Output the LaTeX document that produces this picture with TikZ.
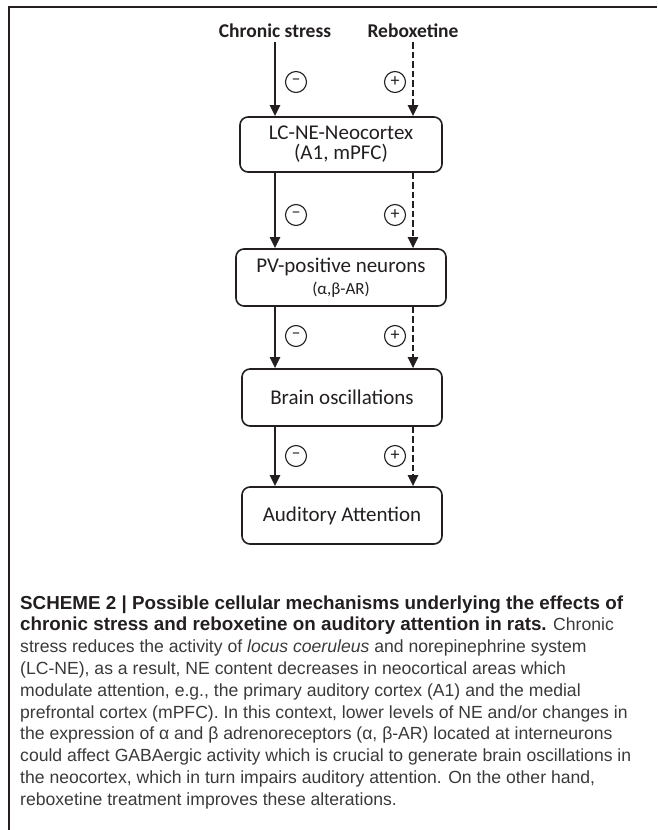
\documentclass[tikz,border=0pt]{standalone}
\usepackage{fontspec}
\setmainfont{Carlito}
\newfontfamily\capfont{Liberation Sans}
\usetikzlibrary{arrows.meta}
\definecolor{ink}{HTML}{231F20}
\definecolor{captxt}{HTML}{3A3A3A}
\begin{document}
\begin{tikzpicture}[x=1pt,y=-1pt,
  box/.style={draw=ink, line width=1.6pt, rounded corners=8pt, minimum width=200pt, minimum height=55pt, inner sep=0pt, align=center, font=\fontsize{21}{21}\selectfont, text=ink},
  sarrow/.style={draw=ink, line width=2.4pt, -{Triangle[length=11pt,width=10pt]}},
  darrow/.style={sarrow, dash pattern=on 6.5pt off 3pt},
  sign/.style={draw=ink, circle, line width=1.1pt, minimum size=21pt, inner sep=0pt, font=\fontsize{18}{18}\selectfont, text=ink},
  ttl/.style={font=\fontsize{19.5}{22}\selectfont\bfseries, inner sep=0pt, text=ink},
  capline/.style={anchor=base west, inner sep=0pt, font=\capfont\fontsize{17.6}{20}\selectfont, text=captxt},
  capbold/.style={font=\capfont\fontsize{18.8}{20}\selectfont\bfseries}
]
\useasboundingbox (0,0) rectangle (657,830);
\draw[ink, line width=1.2pt] (657,7) -- (9,7) -- (9,830);

\node[ttl] (t1) at (275,31) {Chronic stress};
\node[ttl] (t2) at (413,31) {Reboxetine};

\node[box, minimum width=202pt] (b1) at (341,144.5) {LC-NE-Neocortex\\[-1pt](A1, mPFC)};
\node[box, minimum width=210pt, minimum height=57pt] (b2) at (341,277.5) {PV-positive neurons\\[1pt]{\fontsize{17}{17}\selectfont(α,β-AR)}};
\node[box, minimum height=57pt] (b3) at (342,397.5) {Brain oscillations};
\node[box, minimum height=57pt] (b4) at (342,515.5) {Auditory Attention};

\draw[sarrow] ([yshift=-4pt]t1.south) -- (t1.south |- b1.north);
\draw[darrow] ([yshift=-4pt]t2.south) -- (t2.south |- b1.north);
\draw[sarrow] (b1.south -| t1) -- (b2.north -| t1);
\draw[darrow] (b1.south -| t2) -- (b2.north -| t2);
\draw[sarrow] (b2.south -| t1) -- (b3.north -| t1);
\draw[darrow] (b2.south -| t2) -- (b3.north -| t2);
\draw[sarrow] (b3.south -| t1) -- (b4.north -| t1);
\draw[darrow] (b3.south -| t2) -- (b4.north -| t2);

\node[sign] (m1) at (296,82) {–};
\node[sign] (p1) at (395,82) {+};
\node[sign] (m2) at (296,215) {–};
\node[sign] (p2) at (395,215) {+};
\node[sign] (m3) at (296,336) {–};
\node[sign] (p3) at (395,336) {+};
\node[sign] (m4) at (296,456) {–};
\node[sign] (p4) at (395,456) {+};

\node[capline, capbold, text=ink] (c1) at (20,609) {SCHEME 2 | Possible cellular mechanisms underlying the effects of};
\node[capline] (c2) at (20,630.8) {{\color{ink}\fontsize{18.8}{20}\selectfont\bfseries chronic stress and reboxetine on auditory attention in rats.} Chronic};
\node[capline] (c3) at (20,652.6) {stress reduces the activity of \textit{locus coeruleus} and norepinephrine system};
\node[capline] (c4) at (20,674.4) {(LC-NE), as a result, NE content decreases in neocortical areas which};
\node[capline] (c5) at (20,696.2) {modulate attention, e.g., the primary auditory cortex (A1) and the medial};
\node[capline] (c6) at (20,718) {prefrontal cortex (mPFC). In this context, lower levels of NE and/or changes in};
\node[capline] (c7) at (20,739.8) {the expression of α and β adrenoreceptors (α, β-AR) located at interneurons};
\node[capline] (c8) at (20,761.6) {could affect GABAergic activity which is crucial to generate brain oscillations in};
\node[capline] (c9) at (20,783.4) {the neocortex, which in turn impairs auditory attention. On the other hand,};
\node[capline] (c10) at (20,805.2) {reboxetine treatment improves these alterations.};
\end{tikzpicture}
\end{document}
